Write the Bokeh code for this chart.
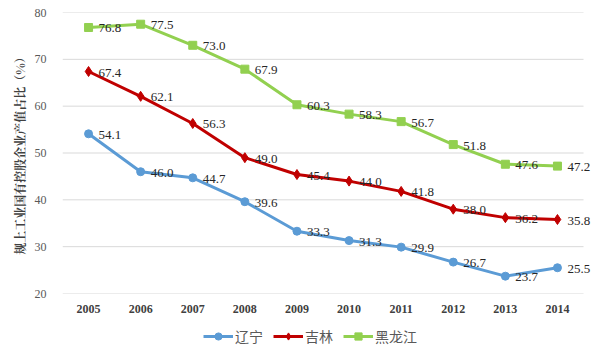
from bokeh.plotting import figure
from bokeh.layouts import column
from bokeh.models import Range1d, Legend, LegendItem, ColumnDataSource, FixedTicker, LabelSet
from bokeh.core.properties import value
from bokeh.embed import file_html
from bokeh.resources import INLINE

years = ["2005", "2006", "2007", "2008", "2009", "2010", "2011", "2012", "2013", "2014"]
liaoning = [54.1, 46.0, 44.7, 39.6, 33.3, 31.3, 29.9, 26.7, 23.7, 25.5]
jilin = [67.4, 62.1, 56.3, 49.0, 45.4, 44.0, 41.8, 38.0, 36.2, 35.8]
heilongjiang = [76.8, 77.5, 73.0, 67.9, 60.3, 58.3, 56.7, 51.8, 47.6, 47.2]
names = ["辽宁", "吉林", "黑龙江"]
y_ticks = [20, 30, 40, 50, 60, 70, 80]
y_title = "规上工业国有控股企业产值占比（%）"

xs = list(range(len(years)))

p = figure(width=595, height=315, x_range=Range1d(-0.5, len(years) - 0.27),
           y_range=Range1d(y_ticks[0], y_ticks[-1]),
           output_backend="svg", toolbar_location=None,
           min_border_left=62, min_border_right=0, min_border_top=12, min_border_bottom=10)
p.outline_line_color = None
p.background_fill_color = "white"
p.border_fill_color = "white"

p.xgrid.grid_line_color = None
p.ygrid.grid_line_color = None
p.segment(x0=[-0.5] * len(y_ticks), x1=[len(years) - 0.5] * len(y_ticks),
          y0=y_ticks, y1=y_ticks, line_color="#D9D9D9", line_width=1)

p.yaxis.ticker = FixedTicker(ticks=y_ticks)
p.yaxis.axis_line_color = None
p.yaxis.major_tick_line_color = None
p.yaxis.minor_tick_line_color = None
p.yaxis.major_label_text_font = "Liberation Serif"
p.yaxis.major_label_text_font_size = "12px"
p.yaxis.major_label_text_color = "#595959"
p.yaxis.major_label_standoff = 10
p.yaxis.axis_label = y_title
p.yaxis.axis_label_text_font = "Noto Serif CJK SC"
p.yaxis.axis_label_text_font_style = "bold"
p.yaxis.axis_label_text_font_size = "12px"
p.yaxis.axis_label_text_color = "#404040"
p.yaxis.axis_label_standoff = 4

p.xaxis.ticker = FixedTicker(ticks=xs)
p.xaxis.major_label_overrides = {i: y for i, y in zip(xs, years)}
p.xaxis.axis_line_color = None
p.xaxis.major_tick_line_color = None
p.xaxis.minor_tick_line_color = None
p.xaxis.major_label_text_font = "Liberation Serif"
p.xaxis.major_label_text_font_style = "bold"
p.xaxis.major_label_text_font_size = "12px"
p.xaxis.major_label_text_color = "#404040"
p.xaxis.major_label_standoff = 5

colors = ["#5B9BD5", "#C00000", "#92D050"]
series = [liaoning, jilin, heilongjiang]
markers = ["circle", "diamond", "square"]
msizes = [8, 10, 8]
for name, vals, c, m, ms in zip(names, series, colors, markers, msizes):
    src = ColumnDataSource(dict(x=xs, y=vals, lab=["%.1f" % v for v in vals]))
    p.line("x", "y", source=src, line_color=c, line_width=3)
    p.scatter("x", "y", source=src, marker=m, size=ms, fill_color=c, line_color=c)
    p.add_layout(LabelSet(x="x", y="y", text="lab", source=src, x_offset=10, y_offset=-1,
                          text_font=value("Liberation Serif"), text_font_size=value("13px"),
                          text_baseline="middle", text_align="left", text_color="#262626"))

# legend strip
lg = figure(width=595, height=34, x_range=Range1d(0, 1), y_range=Range1d(0, 1),
            output_backend="svg", toolbar_location=None,
            min_border_left=0, min_border_right=0, min_border_top=0, min_border_bottom=0)
lg.axis.visible = False
lg.grid.visible = False
lg.outline_line_color = None
items = []
for name, c, m, ms in zip(names, colors, markers, msizes):
    r1 = lg.line(x=[5, 6], y=[5, 6], line_color=c, line_width=3)
    r2 = lg.scatter(x=[5], y=[5], marker=m, size=ms - 2, fill_color=c, line_color=c)
    items.append(LegendItem(label=name, renderers=[r1, r2]))
legend = Legend(items=items, orientation="horizontal", location=(141, 3),
                label_text_font="Noto Sans CJK SC", label_text_font_size="14px",
                label_text_color="#595959", border_line_color=None,
                background_fill_alpha=0, glyph_width=30, glyph_height=18,
                spacing=10, padding=0, margin=0, label_standoff=2)
lg.add_layout(legend, "center")

layout = column(p, lg, spacing=0)
open("out.html", "w").write(file_html(layout, INLINE))
